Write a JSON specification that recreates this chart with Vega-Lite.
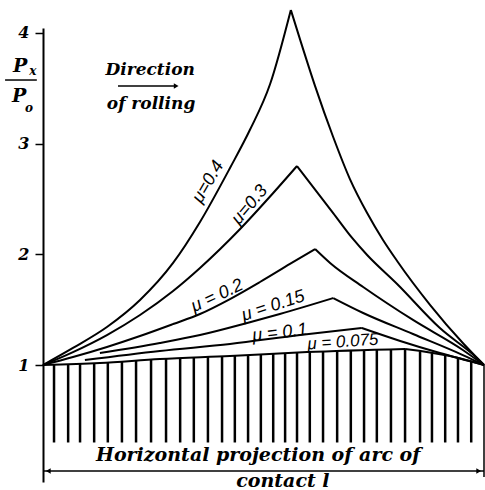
{
  "$schema": "https://vega.github.io/schema/vega-lite/v6.json",
  "width": 441,
  "height": 454,
  "autosize": {"type": "none"},
  "padding": {"left": 43, "top": 28, "right": 1, "bottom": 8},
  "background": "white",
  "config": {"view": {"stroke": null}},
  "datasets": {
    "curves": [
      {"mu": "0.4", "side": "L", "x": 0, "y": 1.0}, {"mu": "0.4", "side": "L", "x": 0.068, "y": 1.154}, {"mu": "0.4", "side": "L", "x": 0.145, "y": 1.343}, {"mu": "0.4", "side": "L", "x": 0.22, "y": 1.587}, {"mu": "0.4", "side": "L", "x": 0.295, "y": 1.922}, {"mu": "0.4", "side": "L", "x": 0.356, "y": 2.292}, {"mu": "0.4", "side": "L", "x": 0.424, "y": 2.78}, {"mu": "0.4", "side": "L", "x": 0.469, "y": 3.123}, {"mu": "0.4", "side": "L", "x": 0.515, "y": 3.539}, {"mu": "0.4", "side": "L", "x": 0.562, "y": 4.208},
      {"mu": "0.4", "side": "R", "x": 0.562, "y": 4.208}, {"mu": "0.4", "side": "R", "x": 0.583, "y": 3.94}, {"mu": "0.4", "side": "R", "x": 0.617, "y": 3.52}, {"mu": "0.4", "side": "R", "x": 0.658, "y": 3.06}, {"mu": "0.4", "side": "R", "x": 0.696, "y": 2.68}, {"mu": "0.4", "side": "R", "x": 0.735, "y": 2.373}, {"mu": "0.4", "side": "R", "x": 0.771, "y": 2.13}, {"mu": "0.4", "side": "R", "x": 0.803, "y": 1.94}, {"mu": "0.4", "side": "R", "x": 0.878, "y": 1.542}, {"mu": "0.4", "side": "R", "x": 0.952, "y": 1.199}, {"mu": "0.4", "side": "R", "x": 1.0, "y": 1.0},
      {"mu": "0.3", "side": "L", "x": 0, "y": 1.0}, {"mu": "0.3", "side": "L", "x": 0.068, "y": 1.117}, {"mu": "0.3", "side": "L", "x": 0.145, "y": 1.271}, {"mu": "0.3", "side": "L", "x": 0.22, "y": 1.452}, {"mu": "0.3", "side": "L", "x": 0.295, "y": 1.669}, {"mu": "0.3", "side": "L", "x": 0.356, "y": 1.877}, {"mu": "0.3", "side": "L", "x": 0.447, "y": 2.229}, {"mu": "0.3", "side": "L", "x": 0.522, "y": 2.554}, {"mu": "0.3", "side": "L", "x": 0.576, "y": 2.798},
      {"mu": "0.3", "side": "R", "x": 0.576, "y": 2.798}, {"mu": "0.3", "side": "R", "x": 0.658, "y": 2.373}, {"mu": "0.3", "side": "R", "x": 0.701, "y": 2.148}, {"mu": "0.3", "side": "R", "x": 0.735, "y": 1.994}, {"mu": "0.3", "side": "R", "x": 0.803, "y": 1.732}, {"mu": "0.3", "side": "R", "x": 0.9, "y": 1.334}, {"mu": "0.3", "side": "R", "x": 0.984, "y": 1.063}, {"mu": "0.3", "side": "R", "x": 1.0, "y": 1.0},
      {"mu": "0.2", "side": "L", "x": 0, "y": 1.0}, {"mu": "0.2", "side": "L", "x": 0.068, "y": 1.072}, {"mu": "0.2", "side": "L", "x": 0.145, "y": 1.163}, {"mu": "0.2", "side": "L", "x": 0.22, "y": 1.262}, {"mu": "0.2", "side": "L", "x": 0.295, "y": 1.37}, {"mu": "0.2", "side": "L", "x": 0.356, "y": 1.461}, {"mu": "0.2", "side": "L", "x": 0.424, "y": 1.596}, {"mu": "0.2", "side": "L", "x": 0.492, "y": 1.75}, {"mu": "0.2", "side": "L", "x": 0.56, "y": 1.913}, {"mu": "0.2", "side": "L", "x": 0.617, "y": 2.048},
      {"mu": "0.2", "side": "R", "x": 0.617, "y": 2.048}, {"mu": "0.2", "side": "R", "x": 0.651, "y": 1.922}, {"mu": "0.2", "side": "R", "x": 0.726, "y": 1.705}, {"mu": "0.2", "side": "R", "x": 0.839, "y": 1.407}, {"mu": "0.2", "side": "R", "x": 0.952, "y": 1.136}, {"mu": "0.2", "side": "R", "x": 1.0, "y": 1.0},
      {"mu": "0.15", "side": "L", "x": 0.129, "y": 1.108}, {"mu": "0.15", "side": "L", "x": 0.265, "y": 1.199}, {"mu": "0.15", "side": "L", "x": 0.356, "y": 1.271}, {"mu": "0.15", "side": "L", "x": 0.463, "y": 1.38}, {"mu": "0.15", "side": "L", "x": 0.537, "y": 1.461}, {"mu": "0.15", "side": "L", "x": 0.658, "y": 1.605},
      {"mu": "0.15", "side": "R", "x": 0.658, "y": 1.605}, {"mu": "0.15", "side": "R", "x": 0.726, "y": 1.47}, {"mu": "0.15", "side": "R", "x": 0.839, "y": 1.28}, {"mu": "0.15", "side": "R", "x": 0.952, "y": 1.09}, {"mu": "0.15", "side": "R", "x": 1.0, "y": 1.0},
      {"mu": "0.1", "side": "L", "x": 0.095, "y": 1.045}, {"mu": "0.1", "side": "L", "x": 0.265, "y": 1.127}, {"mu": "0.1", "side": "L", "x": 0.424, "y": 1.19}, {"mu": "0.1", "side": "L", "x": 0.583, "y": 1.271}, {"mu": "0.1", "side": "L", "x": 0.723, "y": 1.334},
      {"mu": "0.1", "side": "R", "x": 0.723, "y": 1.334}, {"mu": "0.1", "side": "R", "x": 0.81, "y": 1.217}, {"mu": "0.1", "side": "R", "x": 0.9, "y": 1.108}, {"mu": "0.1", "side": "R", "x": 1.0, "y": 1.0},
      {"mu": "0.075", "side": "L", "x": 0, "y": 1.0}, {"mu": "0.075", "side": "L", "x": 0.129, "y": 1.018}, {"mu": "0.075", "side": "L", "x": 0.265, "y": 1.054}, {"mu": "0.075", "side": "L", "x": 0.424, "y": 1.081}, {"mu": "0.075", "side": "L", "x": 0.599, "y": 1.117}, {"mu": "0.075", "side": "L", "x": 0.821, "y": 1.145},
      {"mu": "0.075", "side": "R", "x": 0.821, "y": 1.145}, {"mu": "0.075", "side": "R", "x": 0.923, "y": 1.081}, {"mu": "0.075", "side": "R", "x": 1.0, "y": 1.0}
    ],
    "hatch": [
      {"x": 0.025, "y": 1.004, "y2": 0.3}, {"x": 0.057, "y": 1.008, "y2": 0.3}, {"x": 0.084, "y": 1.012, "y2": 0.3}, {"x": 0.116, "y": 1.016, "y2": 0.3}, {"x": 0.147, "y": 1.023, "y2": 0.3}, {"x": 0.179, "y": 1.032, "y2": 0.3}, {"x": 0.211, "y": 1.04, "y2": 0.3}, {"x": 0.245, "y": 1.049, "y2": 0.3}, {"x": 0.279, "y": 1.057, "y2": 0.3}, {"x": 0.311, "y": 1.062, "y2": 0.3}, {"x": 0.342, "y": 1.068, "y2": 0.3}, {"x": 0.374, "y": 1.073, "y2": 0.3}, {"x": 0.406, "y": 1.079, "y2": 0.3}, {"x": 0.435, "y": 1.084, "y2": 0.3}, {"x": 0.465, "y": 1.089, "y2": 0.3}, {"x": 0.494, "y": 1.096, "y2": 0.3}, {"x": 0.522, "y": 1.101, "y2": 0.3}, {"x": 0.549, "y": 1.108, "y2": 0.3}, {"x": 0.576, "y": 1.113, "y2": 0.3}, {"x": 0.605, "y": 1.118, "y2": 0.3}, {"x": 0.635, "y": 1.122, "y2": 0.3}, {"x": 0.667, "y": 1.126, "y2": 0.3}, {"x": 0.698, "y": 1.13, "y2": 0.3}, {"x": 0.728, "y": 1.134, "y2": 0.3}, {"x": 0.757, "y": 1.137, "y2": 0.3}, {"x": 0.789, "y": 1.141, "y2": 0.3}, {"x": 0.821, "y": 1.145, "y2": 0.3}, {"x": 0.855, "y": 1.124, "y2": 0.3}, {"x": 0.882, "y": 1.107, "y2": 0.3}, {"x": 0.912, "y": 1.089, "y2": 0.3}, {"x": 0.941, "y": 1.064, "y2": 0.3}, {"x": 0.971, "y": 1.037, "y2": 0.3}
    ],
    "frame": [
      {"part": "dimension", "x": 0, "x2": 1, "y": 0.042, "y2": 0.042},
      {"part": "end", "x": 1, "x2": 1, "y": 1.0, "y2": -0.012},
      {"part": "fraction", "x": -0.086, "x2": -0.014, "y": 3.575, "y2": 3.575},
      {"part": "direction", "x": 0.17, "x2": 0.3, "y": 3.521, "y2": 3.521}
    ],
    "heads": [
      {"x": 0.012, "y": 0.042, "dir": "left"},
      {"x": 0.988, "y": 0.042, "dir": "right"},
      {"x": 0.302, "y": 3.521, "dir": "right"}
    ],
    "texts": [
      {"kind": "note", "label": "Direction", "x": 0.243, "y": 3.666},
      {"kind": "note", "label": "of rolling", "x": 0.245, "y": 3.358},
      {"kind": "caption", "label": "Horizontal projection of arc of", "x": 0.488, "y": 0.185},
      {"kind": "caption", "label": "contact l", "x": 0.544, "y": -0.05},
      {"kind": "p", "label": "P", "x": -0.052, "y": 3.702},
      {"kind": "p", "label": "P", "x": -0.054, "y": 3.431},
      {"kind": "sub", "label": "x", "x": -0.023, "y": 3.657},
      {"kind": "sub", "label": "o", "x": -0.032, "y": 3.322}
    ],
    "mulabels": [
      {"mu": "0.4", "label": "μ=0.4", "x": 0.375, "y": 2.654},
      {"mu": "0.3", "label": "μ=0.3", "x": 0.469, "y": 2.446},
      {"mu": "0.2", "label": "μ = 0.2", "x": 0.395, "y": 1.623},
      {"mu": "0.15", "label": "μ = 0.15", "x": 0.522, "y": 1.533},
      {"mu": "0.1", "label": "μ = 0.1", "x": 0.537, "y": 1.289},
      {"mu": "0.075", "label": "μ = 0.075", "x": 0.68, "y": 1.208}
    ]
  },
  "encoding": {
    "x": {"field": "x", "type": "quantitative", "scale": {"domain": [0, 1], "nice": false, "zero": false}, "axis": null},
    "y": {"field": "y", "type": "quantitative", "scale": {"domain": [-0.057, 4.045], "nice": false, "zero": false},
      "axis": {"values": [1, 2, 3, 4], "title": null, "grid": false, "domainColor": "black", "domainWidth": 2, "tickColor": "black", "tickWidth": 1.5, "tickSize": 8, "labelPadding": 6, "labelFont": "DejaVu Serif", "labelFontStyle": "italic", "labelFontWeight": "bold", "labelFontSize": 16, "labelColor": "black", "format": "d"}}
  },
  "layer": [
    {"data": {"name": "hatch"}, "mark": {"type": "rule", "color": "black", "strokeWidth": 2.5}, "encoding": {"y2": {"field": "y2"}}},
    {"data": {"name": "curves"}, "mark": {"type": "line", "color": "black", "strokeWidth": 2, "clip": false, "interpolate": "monotone"}, "encoding": {"detail": [{"field": "mu"}, {"field": "side"}]}},
    {"data": {"name": "frame"}, "mark": {"type": "rule", "color": "black", "strokeWidth": 1.5}, "encoding": {"x2": {"field": "x2"}, "y2": {"field": "y2"}}},
    {"data": {"name": "heads"}, "mark": {"type": "point", "filled": true, "color": "black", "size": 30, "opacity": 1},
      "encoding": {"shape": {"field": "dir", "type": "nominal", "scale": {"domain": ["left", "right"], "range": ["triangle-left", "triangle-right"]}, "legend": null}}},
    {"data": {"name": "texts"}, "transform": [{"filter": "datum.kind === 'note'"}], "mark": {"type": "text", "font": "DejaVu Serif", "fontStyle": "italic", "fontWeight": "bold", "fontSize": 17, "color": "black", "align": "center", "baseline": "middle"}, "encoding": {"text": {"field": "label"}}},
    {"data": {"name": "texts"}, "transform": [{"filter": "datum.kind === 'caption'"}], "mark": {"type": "text", "font": "DejaVu Serif", "fontStyle": "italic", "fontWeight": "bold", "fontSize": 19, "color": "black", "align": "center", "baseline": "middle"}, "encoding": {"text": {"field": "label"}}},
    {"data": {"name": "texts"}, "transform": [{"filter": "datum.kind === 'p'"}], "mark": {"type": "text", "font": "DejaVu Serif", "fontStyle": "italic", "fontWeight": "bold", "fontSize": 19, "color": "black", "align": "center", "baseline": "middle"}, "encoding": {"text": {"field": "label"}}},
    {"data": {"name": "texts"}, "transform": [{"filter": "datum.kind === 'sub'"}], "mark": {"type": "text", "font": "DejaVu Serif", "fontStyle": "italic", "fontWeight": "bold", "fontSize": 12, "color": "black", "align": "center", "baseline": "middle"}, "encoding": {"text": {"field": "label"}}},
    {"data": {"name": "mulabels"}, "transform": [{"filter": "datum.mu === '0.4'"}], "mark": {"type": "text", "font": "Liberation Sans", "fontStyle": "italic", "fontSize": 18, "color": "black", "align": "center", "baseline": "middle", "angle": 300}, "encoding": {"text": {"field": "label"}}},
    {"data": {"name": "mulabels"}, "transform": [{"filter": "datum.mu === '0.3'"}], "mark": {"type": "text", "font": "Liberation Sans", "fontStyle": "italic", "fontSize": 18, "color": "black", "align": "center", "baseline": "middle", "angle": 310}, "encoding": {"text": {"field": "label"}}},
    {"data": {"name": "mulabels"}, "transform": [{"filter": "datum.mu === '0.2'"}], "mark": {"type": "text", "font": "Liberation Sans", "fontStyle": "italic", "fontSize": 18, "color": "black", "align": "center", "baseline": "middle", "angle": 335}, "encoding": {"text": {"field": "label"}}},
    {"data": {"name": "mulabels"}, "transform": [{"filter": "datum.mu === '0.15'"}], "mark": {"type": "text", "font": "Liberation Sans", "fontStyle": "italic", "fontSize": 18, "color": "black", "align": "center", "baseline": "middle", "angle": 342}, "encoding": {"text": {"field": "label"}}},
    {"data": {"name": "mulabels"}, "transform": [{"filter": "datum.mu === '0.1'"}], "mark": {"type": "text", "font": "Liberation Sans", "fontStyle": "italic", "fontSize": 18, "color": "black", "align": "center", "baseline": "middle", "angle": 353}, "encoding": {"text": {"field": "label"}}},
    {"data": {"name": "mulabels"}, "transform": [{"filter": "datum.mu === '0.075'"}], "mark": {"type": "text", "font": "Liberation Sans", "fontStyle": "italic", "fontSize": 17, "color": "black", "align": "center", "baseline": "middle", "angle": 356}, "encoding": {"text": {"field": "label"}}}
  ]
}
